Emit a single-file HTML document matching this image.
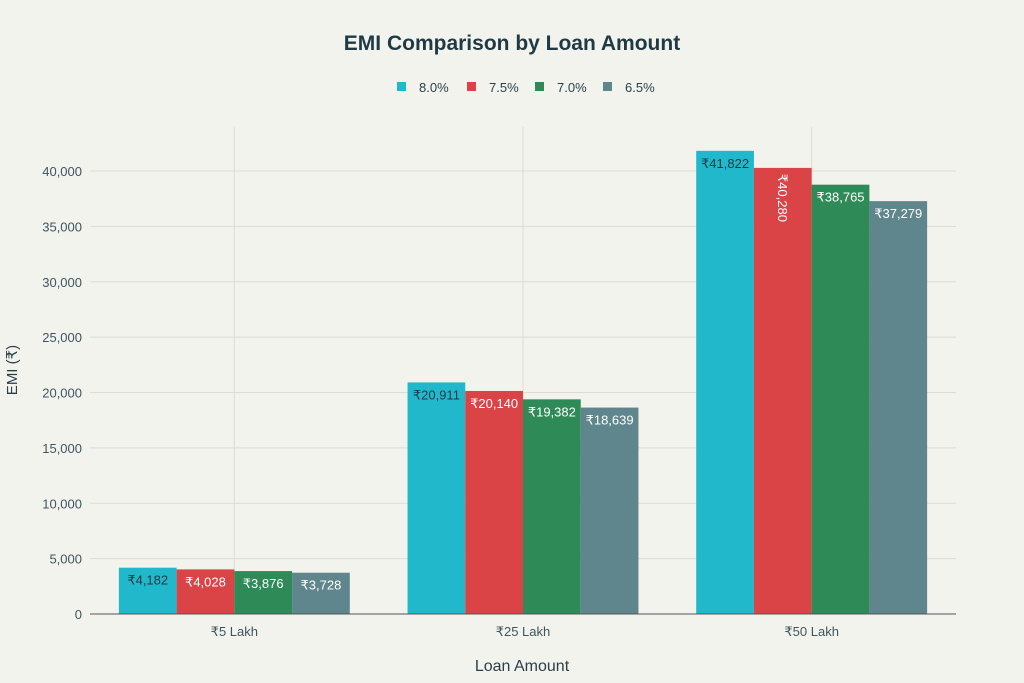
<!DOCTYPE html>
<html><head><meta charset="utf-8"><style>
body{margin:0;background:#f3f3ee;}
svg{display:block;font-family:"Liberation Sans",sans-serif;}
</style></head><body>
<svg id="c" width="1024" height="683">
<rect width="1024" height="683" fill="#f3f3ee"/>
<text x="512" y="50" text-anchor="middle" font-size="21" font-weight="bold" fill="#1f3a44">EMI Comparison by Loan Amount</text>
<g id="legend"></g>
<g id="grid"></g><g id="bars"></g><g id="axes"></g>
<text x="522" y="671" text-anchor="middle" font-size="16" fill="#2a3f4a">Loan Amount</text>
<text transform="translate(17,370) rotate(-90)" text-anchor="middle" font-size="15" fill="#2a3f4a">EMI (₹)</text>
</svg>
<script>
const categories=["₹5 Lakh","₹25 Lakh","₹50 Lakh"];
const seriesNames=["8.0%","7.5%","7.0%","6.5%"];
const s80=[4182,20911,41822];
const s75=[4028,20140,40280];
const s70=[3876,19382,38765];
const s65=[3728,18639,37279];
const yTicks=[0,5000,10000,15000,20000,25000,30000,35000,40000];
const series=[s80,s75,s70,s65];
const colors=["#21b8cc","#db4446","#2e8a56","#5e868c"];
const textCol=["#1f3a44","#fff","#fff","#fff"];
const NS="http://www.w3.org/2000/svg";
const L=90,R=956,T=127,B=614;
const y=v=>B-(v/40000)*(B-171);
const band=(R-L)/categories.length;
const xc=i=>L+band*(i+0.5);
const bw=band*0.8/4;
function mk(t,a,p){const e=document.createElementNS(NS,t);for(const k in a)e.setAttribute(k,a[k]);p.appendChild(e);return e;}
const grid=document.getElementById('grid'),bars=document.getElementById('bars'),axes=document.getElementById('axes'),leg=document.getElementById('legend');
yTicks.forEach(t=>{
 if(t>0){const g=mk('line',{x1:L,x2:R,y1:y(t),y2:y(t),stroke:'#dcdcd6','stroke-width':1},grid);
 
 }
 const tx=mk('text',{x:L-8,y:y(t)+5,'text-anchor':'end','font-size':13,fill:'#3e5560'},axes);tx.textContent=t.toLocaleString('en-US');
 
 
});
categories.forEach((c,i)=>{
 const g=mk('line',{x1:xc(i),x2:xc(i),y1:T,y2:B,stroke:'#dcdcd6','stroke-width':1},grid);
 
 
 const tx=mk('text',{x:xc(i),y:B+22,'text-anchor':'middle','font-size':13,fill:'#3e5560'},axes);tx.textContent=c;
 
 
});
const ax=mk('line',{x1:L,x2:R,y1:B,y2:B,stroke:'#555','stroke-width':1},axes);


series.forEach((s,si)=>{
 s.forEach((v,i)=>{
  const x0=xc(i)-bw*2+si*bw;
  const r=mk('rect',{x:x0,y:y(v),width:bw,height:B-y(v),fill:colors[si]},bars);
  
  
  const lab='₹'+v.toLocaleString('en-US');
  let t;
  if(si===1&&i===2){
   t=mk('text',{transform:`translate(${x0+bw/2-5},${y(v)+6}) rotate(90)`,'font-size':13,fill:textCol[si]},bars);
  }else{
   t=mk('text',{x:x0+bw/2,y:y(v)+17,'text-anchor':'middle','font-size':13,fill:textCol[si]},bars);
  }
  t.textContent=lab;
  
  
 });
});
const lx=[397,467,535,603];
seriesNames.forEach((n,i)=>{
 const r=mk('rect',{x:lx[i],y:82,width:9,height:9,fill:colors[i]},leg);
 
 
 const t=mk('text',{x:lx[i]+22,y:92,'font-size':13,fill:'#2a3f4a'},leg);t.textContent=n;
 
 
});
</script>
</body></html>
